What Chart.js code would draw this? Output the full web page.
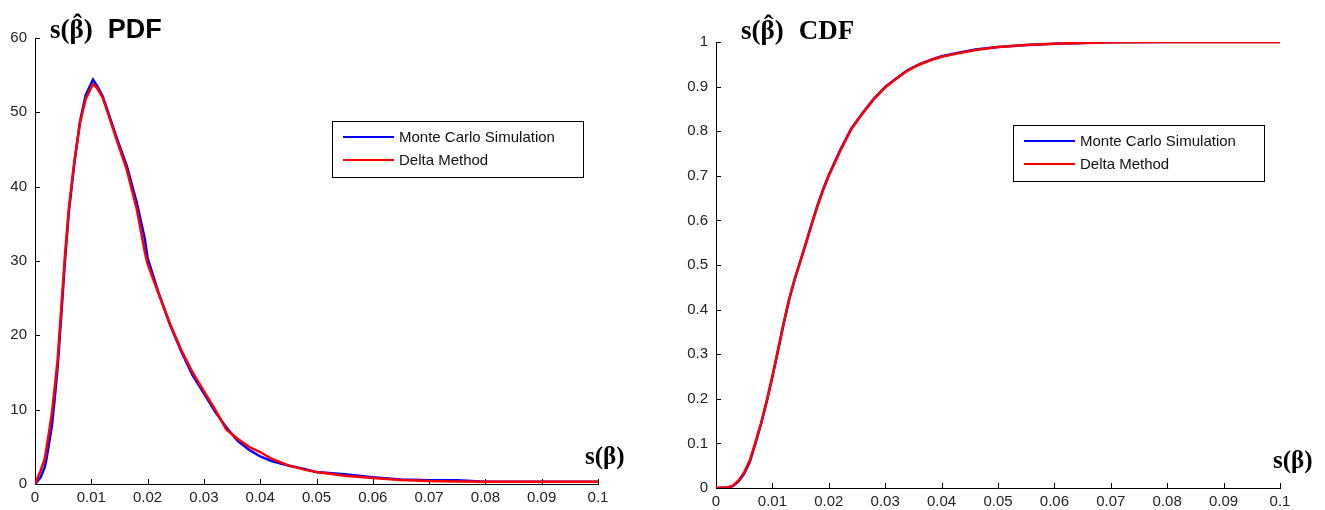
<!DOCTYPE html>
<html>
<head>
<meta charset="utf-8">
<script src="https://cdn.jsdelivr.net/npm/chart.js@4.4.1/dist/chart.umd.min.js"></script>
<style>
  body { margin: 0; background: #fff; }
  #wrap { position: relative; width: 1325px; height: 510px; }
  canvas { position: absolute; top: 0; }
</style>
</head>
<body>
<div id="wrap">
  <canvas id="pdf-chart" width="660" height="510" style="left:0"></canvas>
  <canvas id="cdf-chart" width="665" height="510" style="left:660px"></canvas>
</div>
<script>
// PDF of s(beta-hat)
const pdfX = [0, 0.001, 0.0017, 0.002, 0.003, 0.0035, 0.004, 0.0047, 0.0053, 0.006, 0.007, 0.008, 0.009, 0.0103,
  0.011, 0.012, 0.013, 0.0145, 0.0163, 0.0181, 0.0195, 0.02, 0.022, 0.024, 0.026, 0.028, 0.03, 0.032,
  0.034, 0.036, 0.038, 0.04, 0.042, 0.045, 0.048, 0.05, 0.055, 0.06, 0.065, 0.07, 0.075, 0.08, 0.09, 0.1];
const pdfDelta = [0, 1.8, 3.3, 4.6, 9.5, 13, 16.5, 24, 30.5, 37, 43.5, 48.6, 51.8, 53.8,
  53.3, 52, 49.8, 46.3, 42.3, 36.9, 31.2, 29.6, 25.5, 21.5, 18, 15, 12.5, 10,
  7.3, 6.1, 5, 4.3, 3.4, 2.5, 1.9, 1.6, 1.1, 0.8, 0.55, 0.4, 0.35, 0.3, 0.3, 0.3];
const pdfMonteCarlo = [0, 0.9, 2.2, 3.2, 7.8, 11.5, 15.5, 23, 29.8, 36.5, 43.2, 48.8, 52.3, 54.4,
  53.6, 52.2, 50, 46.6, 42.8, 37.8, 33, 30.4, 25.6, 21.4, 17.8, 14.6, 12.2, 9.7,
  7.6, 5.8, 4.6, 3.7, 3.1, 2.5, 2, 1.6, 1.3, 0.9, 0.6, 0.5, 0.5, 0.3, 0.3, 0.3];

// CDF of s(beta-hat)
const cdfX = [0, 0.002, 0.003, 0.004, 0.005, 0.006, 0.007, 0.008, 0.009, 0.01, 0.011, 0.012, 0.013, 0.014,
  0.015, 0.016, 0.017, 0.018, 0.019, 0.02, 0.022, 0.024, 0.026, 0.028, 0.03, 0.032, 0.034, 0.036,
  0.038, 0.04, 0.043, 0.046, 0.05, 0.055, 0.06, 0.065, 0.07, 0.08, 0.09, 0.1];
const cdfDelta = [0, 0.001, 0.005, 0.017, 0.035, 0.062, 0.103, 0.146, 0.196, 0.251, 0.31, 0.37, 0.425, 0.47,
  0.51, 0.55, 0.592, 0.632, 0.668, 0.7, 0.755, 0.805, 0.84, 0.872, 0.898, 0.918, 0.936, 0.949,
  0.959, 0.967, 0.975, 0.982, 0.989, 0.993, 0.996, 0.998, 0.9995, 1, 1, 1];
const cdfMonteCarlo = [0, 0.001, 0.004, 0.015, 0.032, 0.059, 0.1, 0.144, 0.194, 0.249, 0.308, 0.369, 0.424, 0.47,
  0.511, 0.552, 0.594, 0.634, 0.67, 0.702, 0.757, 0.806, 0.841, 0.873, 0.899, 0.919, 0.937, 0.95,
  0.96, 0.968, 0.976, 0.983, 0.989, 0.993, 0.996, 0.998, 0.9995, 1, 1, 1];

const xTickLabels = ["0", "0.01", "0.02", "0.03", "0.04", "0.05", "0.06", "0.07", "0.08", "0.09", "0.1"];
const pdfTickLabels = ["0", "10", "20", "30", "40", "50", "60"];
const cdfTickLabels = ["0", "0.1", "0.2", "0.3", "0.4", "0.5", "0.6", "0.7", "0.8", "0.9", "1"];
const seriesLabels = ["Monte Carlo Simulation", "Delta Method"];

const tickFont = { family: "'Liberation Sans', Arial, sans-serif", size: 15 };
const serifBold = "'Liberation Serif', 'Times New Roman', serif";

function toPoints(xs, ys) {
  return xs.map((x, i) => ({ x: x, y: ys[i] }));
}

// draws s(β) with a hat over the β, returns its width
function drawSBeta(ctx, x, y, size, hat) {
  ctx.font = "bold " + size + "px " + serifBold;
  ctx.fillText("s(\u03B2)", x, y);
  if (hat) {
    const pre = ctx.measureText("s(").width;
    const bw = ctx.measureText("\u03B2").width;
    ctx.save();
    ctx.textAlign = "center";
    ctx.fillText("\u02C6", x + pre + bw / 2 + 1, y - 5);
    ctx.restore();
  }
  return ctx.measureText("s(\u03B2)").width;
}

// titles, axis label, inward tick marks and the boxed legend
const decorPlugin = {
  id: "decor",
  beforeDatasetsDraw(chart, args, opts) {
    const ctx = chart.ctx;
    const area = chart.chartArea;
    ctx.save();
    ctx.strokeStyle = "#000";
    ctx.lineWidth = 1;
    ctx.beginPath();
    chart.scales.x.ticks.forEach((t) => {
      const px = Math.round(chart.scales.x.getPixelForValue(t.value)) + 0.5;
      ctx.moveTo(px, area.bottom);
      ctx.lineTo(px, area.bottom - 5);
    });
    chart.scales.y.ticks.forEach((t) => {
      const py = Math.round(chart.scales.y.getPixelForValue(t.value)) + 0.5;
      ctx.moveTo(area.left, py);
      ctx.lineTo(area.left + 5, py);
    });
    ctx.stroke();
    ctx.restore();
  },
  afterDraw(chart, args, opts) {
    const ctx = chart.ctx;
    const area = chart.chartArea;
    ctx.save();
    ctx.fillStyle = "#000";
    ctx.textBaseline = "alphabetic";
    ctx.textAlign = "left";

    // title
    const w = drawSBeta(ctx, opts.titleX, opts.titleY, 27, true);
    ctx.font = opts.titleFont;
    ctx.fillText(opts.title, opts.titleX + w + 15, opts.titleY);

    // x axis label
    drawSBeta(ctx, opts.axisX, opts.axisY, 25, false);

    // legend box
    const lx = area.left + 297, ly = area.top + 83, lw = 251, lh = 56;
    ctx.fillStyle = "#fff";
    ctx.fillRect(lx, ly, lw, lh);
    ctx.strokeStyle = "#000";
    ctx.lineWidth = 1;
    ctx.strokeRect(lx + 0.5, ly + 0.5, lw, lh);
    ctx.font = "15px 'Liberation Sans', Arial, sans-serif";
    ctx.textBaseline = "middle";
    chart.data.datasets.forEach((ds, i) => {
      const y = ly + 16 + i * 23;
      ctx.strokeStyle = ds.borderColor;
      ctx.lineWidth = 2;
      ctx.beginPath();
      ctx.moveTo(lx + 11, y);
      ctx.lineTo(lx + 62, y);
      ctx.stroke();
      ctx.fillStyle = "#111";
      ctx.fillText(ds.label, lx + 67, y + 1);
    });
    ctx.restore();
  },
};

function makeChart(canvasId, xs, mc, delta, yMax, yStep, yLabels, pad, yWidth, xHeight, decor) {
  const ctx = document.getElementById(canvasId).getContext("2d");
  return new Chart(ctx, {
    type: "line",
    data: {
      datasets: [
        {
          label: seriesLabels[0],
          data: toPoints(xs, mc),
          borderColor: "#0000ff",
          borderWidth: 2.5,
          pointRadius: 0,
          tension: 0,
          fill: false,
          order: 2,
        },
        {
          label: seriesLabels[1],
          data: toPoints(xs, delta),
          borderColor: "#ff0000",
          borderWidth: 2.5,
          pointRadius: 0,
          tension: 0,
          fill: false,
          order: 1,
        },
      ],
    },
    options: {
      responsive: false,
      animation: false,
      layout: { padding: pad },
      plugins: {
        legend: { display: false },
        tooltip: { enabled: false },
        decor: decor,
      },
      scales: {
        x: {
          type: "linear",
          min: 0,
          max: 0.1,
          afterFit: (s) => { s.height = xHeight; },
          grid: { display: false, drawTicks: false },
          border: { display: true, color: "#000", width: 1 },
          ticks: {
            stepSize: 0.01,
            padding: 5,
            maxRotation: 0,
            autoSkip: false,
            color: "#222",
            font: tickFont,
            callback: (v, i) => xTickLabels[i],
          },
        },
        y: {
          min: 0,
          max: yMax,
          afterFit: (s) => { s.width = yWidth; },
          grid: { display: false, drawTicks: false },
          border: { display: true, color: "#000", width: 1 },
          ticks: {
            stepSize: yStep,
            padding: 8,
            autoSkip: false,
            color: "#222",
            font: tickFont,
            callback: (v, i) => yLabels[i],
          },
        },
      },
    },
    plugins: [decorPlugin],
  });
}

makeChart("pdf-chart", pdfX, pdfMonteCarlo, pdfDelta, 60, 10, pdfTickLabels,
  { left: 0, top: 38, right: 62, bottom: 0 }, 35, 26,
  { title: "PDF", titleFont: "bold 27px 'Liberation Sans', Arial, sans-serif", titleX: 50, titleY: 38, axisX: 585, axisY: 464 });

makeChart("cdf-chart", cdfX, cdfMonteCarlo, cdfDelta, 1, 0.1, cdfTickLabels,
  { left: 0, top: 42, right: 45, bottom: 0 }, 56, 22,
  { title: "CDF", titleFont: "bold 27px " + serifBold, titleX: 81, titleY: 39, axisX: 613, axisY: 468 });
</script>
</body>
</html>
